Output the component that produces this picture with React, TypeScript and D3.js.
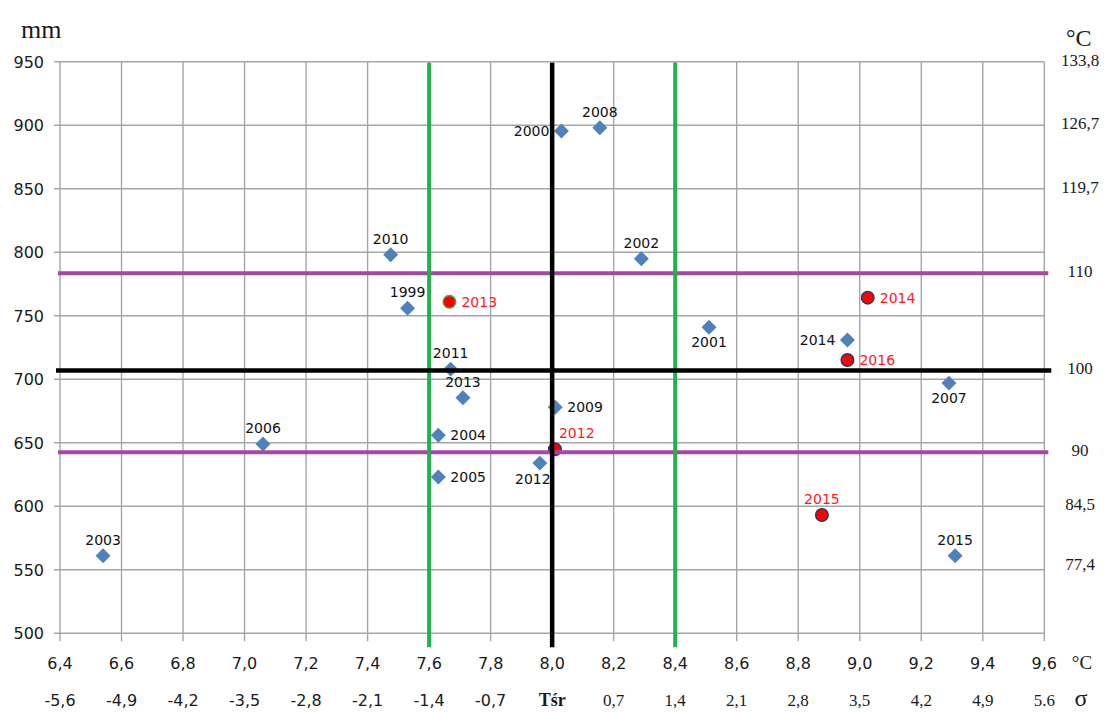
import React from "react";
import * as d3 from "d3";

// ---- data ----
const xTicks = [6.4, 6.6, 6.8, 7.0, 7.2, 7.4, 7.6, 7.8, 8.0, 8.2, 8.4, 8.6, 8.8, 9.0, 9.2, 9.4, 9.6];
const yTicks = [500, 550, 600, 650, 700, 750, 800, 850, 900, 950];
const sigmaLabels = ["-5,6", "-4,9", "-4,2", "-3,5", "-2,8", "-2,1", "-1,4", "-0,7", "Tśr", "0,7", "1,4", "2,1", "2,8", "3,5", "4,2", "4,9", "5.6"];
const rightLabels = ["133,8", "126,7", "119,7", "110", "100", "90", "84,5", "77,4"];
const rightLabelMm = [950, 900, 850, 783.5, 707, 642.5, 600, 553];

const blueYears = ["2003", "2006", "2010", "1999", "2011", "2013", "2004", "2005", "2012", "2009", "2000", "2008", "2002", "2001", "2014", "2007", "2015"];
const blueTemp = [6.54, 7.06, 7.475, 7.53, 7.67, 7.71, 7.63, 7.63, 7.96, 8.01, 8.03, 8.155, 8.29, 8.51, 8.96, 9.29, 9.31];
const bluePrec = [561, 649, 798, 756, 708, 685.5, 656, 623, 634, 678, 895.5, 898, 795, 741, 731, 697, 561];
const blueSide = ["top", "top", "top", "top", "top", "top", "right", "right", "belowLeft", "right", "left", "top", "top", "bottom", "left", "bottom", "top"];

const redYears = ["2013", "2014", "2016", "2012", "2015"];
const redTemp = [7.666, 9.026, 8.96, 8.009, 8.877];
const redPrec = [761, 764.3, 715.2, 644.9, 593.1];
const redSide = ["right", "right", "right", "aboveRight", "top"];
const redOutline = ["#2DB34A", "#1F3A6E", "#1F3A6E", "#1F3A6E", "#1F3A6E"];

const tMean = 8.0, tLow = 7.6, tHigh = 8.4;
const pMean = 707, pHigh = 783.5, pLow = 642.5;

// ---- layout ----
const W = 1112, H = 712;
const L = 60, R = 1044.3, T = 61.8, B = 633.3;
const SANS = "DejaVu Sans";
const SERIF = "Liberation Serif";

const x = d3.scaleLinear().domain([6.4, 9.6]).range([L, R]);
const y = d3.scaleLinear().domain([500, 950]).range([B, T]);
const fmt = (v: number) => d3.format(".1f")(v).replace(".", ",");
const diamond = d3.symbol().type(d3.symbolSquare).size(112)() as string;

function labelProps(side: string, px: number, py: number) {
  switch (side) {
    case "right": return { x: px + 12, y: py + 5, anchor: "start" };
    case "left": return { x: px - 12, y: py + 5, anchor: "end" };
    case "bottom": return { x: px, y: py + 20, anchor: "middle" };
    case "belowLeft": return { x: px - 7, y: py + 21, anchor: "middle" };
    case "aboveRight": return { x: px + 4, y: py - 11, anchor: "start" };
    default: return { x: px, y: py - 11, anchor: "middle" };
  }
}

export default function App() {
  return (
    <svg width={W} height={H} style={{ position: "absolute", left: 0, top: 0, background: "#fff" }}>
      <rect x={0} y={0} width={W} height={H} fill="#fff" />
      {/* grid */}
      <g stroke="#A6A6A6" strokeWidth={1.4}>
        {xTicks.map((t, i) => (
          <line key={"gx" + i} x1={x(t)} x2={x(t)} y1={T} y2={B + 8} />
        ))}
        {yTicks.map((t, i) => (
          <line key={"gy" + i} x1={L - 6} x2={R} y1={y(t)} y2={y(t)} />
        ))}
      </g>
      {/* left axis labels */}
      <g fontFamily={SANS} fontSize={16} fill="#1a1a1a" textAnchor="end">
        {yTicks.map((t, i) => (
          <text key={"yl" + i} x={44} y={y(t) + 6}>{t}</text>
        ))}
      </g>
      {/* x axis labels */}
      <g fontFamily={SANS} fontSize={16} fill="#1a1a1a" textAnchor="middle">
        {xTicks.map((t, i) => (
          <text key={"xl" + i} x={x(t)} y={669}>{fmt(t)}</text>
        ))}
      </g>
      {/* sigma row */}
      {sigmaLabels.map((s, i) => {
        const isSans = i < 8;
        const isBold = s === "Tśr";
        return (
          <text
            key={"sl" + i}
            x={x(xTicks[i])}
            y={706}
            textAnchor="middle"
            fontFamily={isSans ? SANS : SERIF}
            fontSize={isSans ? 16 : isBold ? 18 : 17}
            fontWeight={isBold ? "bold" : "normal"}
            fill="#1a1a1a"
          >
            {s}
          </text>
        );
      })}
      <text x={1082} y={669} textAnchor="middle" fontFamily={SERIF} fontSize={19} fill="#1a1a1a">°C</text>
      <text x={1081} y={706} textAnchor="middle" fontFamily={SERIF} fontSize={24} fill="#1a1a1a">σ</text>
      {/* right labels */}
      <g fontFamily={SERIF} fontSize={17} fill="#1a1a1a" textAnchor="middle">
        {rightLabels.map((s, i) => (
          <text key={"rl" + i} x={1080} y={y(rightLabelMm[i]) + 4}>{s}</text>
        ))}
      </g>
      <text x={21} y={38} fontFamily={SERIF} fontSize={26} fill="#1a1a1a">mm</text>
      <text x={1066} y={46} fontFamily={SERIF} fontSize={24} fill="#1a1a1a">°C</text>

      {/* blue diamonds */}
      {blueYears.map((yr, i) => (
        <path key={"bd" + i} d={diamond} fill="#4F81BD"
          transform={`translate(${x(blueTemp[i])},${y(bluePrec[i])}) rotate(45)`} />
      ))}
      {/* red circles */}
      {redYears.map((yr, i) => (
        <circle key={"rc" + i} cx={x(redTemp[i])} cy={y(redPrec[i])} r={6.3}
          fill="#FF0000" stroke={redOutline[i]} strokeWidth={1.4} />
      ))}

      {/* reference lines */}
      <line x1={L - 2} x2={R + 4} y1={y(pHigh)} y2={y(pHigh)} stroke="#A349A4" strokeWidth={4} />
      <line x1={L - 2} x2={R + 4} y1={y(pLow)} y2={y(pLow)} stroke="#A349A4" strokeWidth={4} />
      <line x1={x(tLow)} x2={x(tLow)} y1={T + 1} y2={B + 14} stroke="#22B14C" strokeWidth={4} />
      <line x1={x(tHigh)} x2={x(tHigh)} y1={T + 1} y2={B + 14} stroke="#22B14C" strokeWidth={4} />
      <line x1={x(tMean)} x2={x(tMean)} y1={T + 1} y2={B + 14} stroke="#000" strokeWidth={4.5} />
      <line x1={L - 4} x2={R + 7} y1={y(pMean)} y2={y(pMean)} stroke="#000" strokeWidth={4.5} />

      {/* labels */}
      <g fontFamily={SANS} fontSize={14}>
        {blueYears.map((yr, i) => {
          const p = labelProps(blueSide[i], x(blueTemp[i]), y(bluePrec[i]));
          return <text key={"bl" + i} x={p.x} y={p.y} textAnchor={p.anchor} fill="#111">{yr}</text>;
        })}
        {redYears.map((yr, i) => {
          const p = labelProps(redSide[i], x(redTemp[i]), y(redPrec[i]));
          return <text key={"rlb" + i} x={p.x} y={p.y} textAnchor={p.anchor} fill="#FF1A1A">{yr}</text>;
        })}
      </g>
    </svg>
  );
}
